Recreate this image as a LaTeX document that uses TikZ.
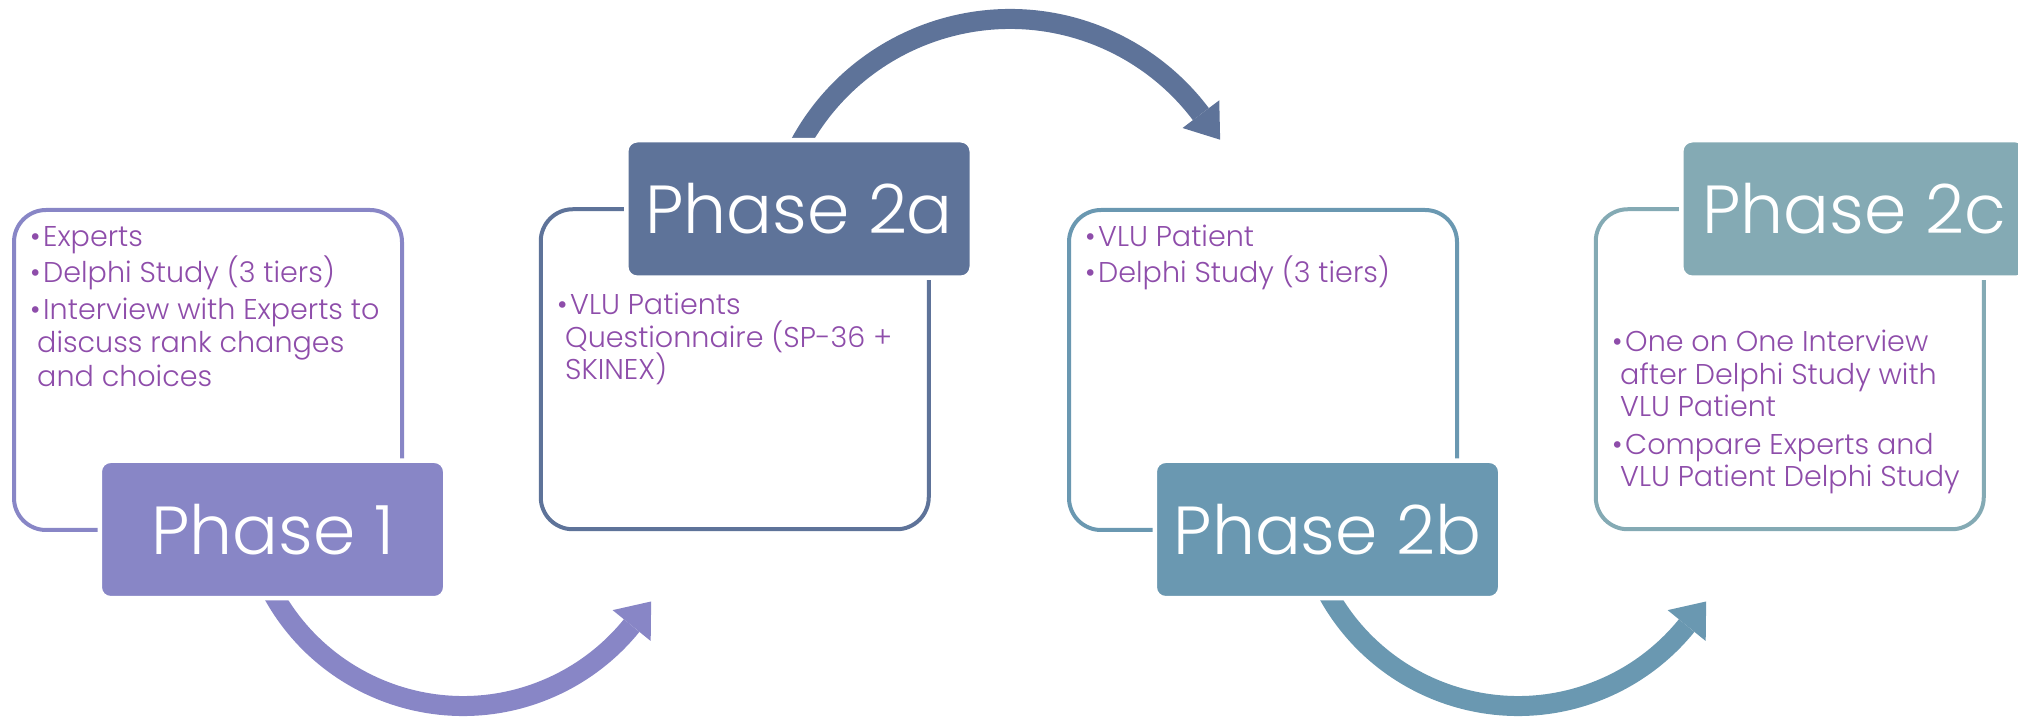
\documentclass[tikz,border=0pt]{standalone}
\usepackage{fontspec}
\setmainfont{Poppins Light}
\usetikzlibrary{calc}
\definecolor{cA}{HTML}{8886C6}
\definecolor{cB}{HTML}{5E7399}
\definecolor{cC}{HTML}{6A98B1}
\definecolor{cD}{HTML}{84AAB4}
\definecolor{cT}{HTML}{8E4DAA}
\begin{document}
\begin{tikzpicture}[x=1pt,y=1pt,
  outl/.style={draw, line width=4pt, rounded corners=32pt, minimum width=388pt, minimum height=320pt, inner sep=0pt},
  phase/.style={draw=white, line width=4.5pt, rounded corners=11pt, minimum width=345.5pt, minimum height=137.5pt, inner sep=0pt, text=white, font=\fontsize{68}{80}\selectfont},
  txt/.style={anchor=base west, inner sep=0pt, text=cT, font=\fontsize{28.6}{33}\selectfont},
  arr/.style={line width=20pt}
]
\useasboundingbox (0,0) rectangle (2018,717);
\clip (0,0) rectangle (2018,717);

% curved arrows
\coordinate (A1) at (463,228);
\coordinate (A2) at (1010,459);
\coordinate (A3) at (1518,228);
\draw[arr, cA] ($(A1)+(205:217)$) arc[start angle=205, end angle=321, radius=217];
\fill[cA] ($(A1)+(321:192.5)$) -- ($(A1)+(321:241.5)$) -- ($(A1)+(321:217)+(51:31)$) -- cycle;
\draw[arr, cB] ($(A2)+(155:239)$) arc[start angle=155, end angle=37, radius=239];
\fill[cB] ($(A2)+(37:216)$) -- ($(A2)+(37:262)$) -- ($(A2)+(37:239)+(-53:32)$) -- cycle;
\draw[arr, cC] ($(A3)+(205:217)$) arc[start angle=205, end angle=321, radius=217];
\fill[cC] ($(A3)+(321:192.5)$) -- ($(A3)+(321:241.5)$) -- ($(A3)+(321:217)+(51:31)$) -- cycle;

% outline boxes
\node[outl, draw=cA] (o1) at (208,347) {};
\node[outl, draw=cB] (o2) at (734.75,347.75) {};
\node[outl, draw=cC] (o3) at (1263,347) {};
\node[outl, draw=cD] (o4) at (1789.75,347.75) {};

% phase boxes
\node[phase, fill=cA] (p1) at (272.5,187.5) {Phase 1};
\node[phase, fill=cB] (p2) at (799,508) {Phase 2a};
\node[phase, fill=cC] (p3) at (1327.5,187.5) {Phase 2b};
\node[phase, fill=cD] (p4) at (1854,508) {Phase 2c};

% texts group 1
\node[txt] (b1a) at (30,470) {•};
\node[txt] (t1a) at (43,470) {Experts};
\node[txt] (b1b) at (30,434) {•};
\node[txt] (t1b) at (43,434) {Delphi Study (3 tiers)};
\node[txt] (b1c) at (30,397) {•};
\node[txt] (t1c) at (43,397) {Interview with Experts to};
\node[txt] (t1d) at (37,364) {discuss rank changes};
\node[txt] (t1e) at (37,330) {and choices};

% texts group 2
\node[txt] (b2a) at (557,402) {•};
\node[txt] (t2a) at (570,402) {VLU Patients};
\node[txt] (t2b) at (565,369.7) {Questionnaire (SP-36 +};
\node[txt] (t2c) at (565,337.7) {SKINEX)};

% texts group 3
\node[txt] (b3a) at (1085,470) {•};
\node[txt] (t3a) at (1098,470) {VLU Patient};
\node[txt] (b3b) at (1085,434) {•};
\node[txt] (t3b) at (1098,434) {Delphi Study (3 tiers)};

% texts group 4
\node[txt] (b4a) at (1612,365) {•};
\node[txt] (t4a) at (1625,365) {One on One Interview};
\node[txt] (t4b) at (1620,332) {after Delphi Study with};
\node[txt] (t4c) at (1620,300) {VLU Patient};
\node[txt] (b4d) at (1612,262) {•};
\node[txt] (t4d) at (1625,262) {Compare Experts and};
\node[txt] (t4e) at (1620,230) {VLU Patient Delphi Study};
\end{tikzpicture}
\end{document}
